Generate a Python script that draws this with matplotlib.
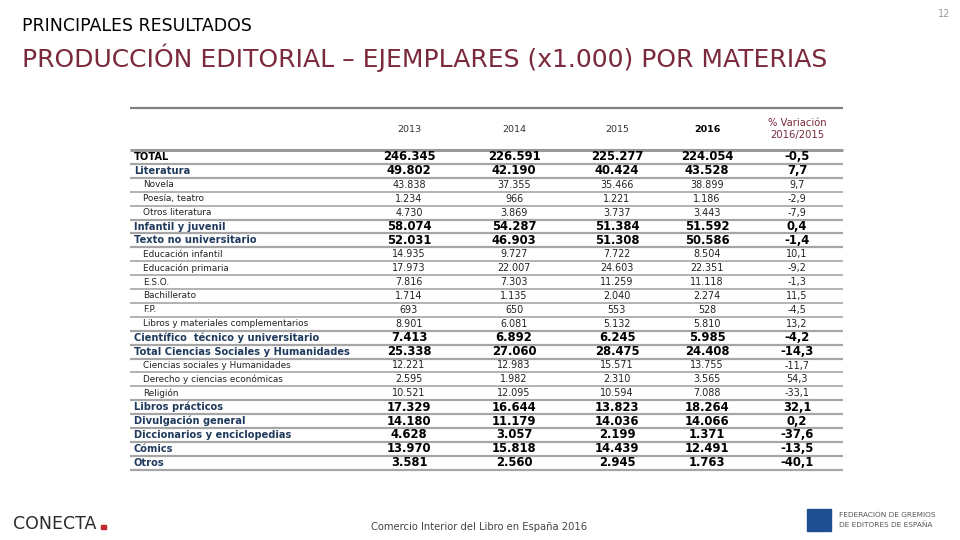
import matplotlib.pyplot as plt
from matplotlib.patches import Rectangle

# categories and row kind: "total", "main" (bold heading), "sub" (indented detail)
categories = [
    "TOTAL", "Literatura", "Novela", "Poesía, teatro", "Otros literatura",
    "Infantil y juvenil", "Texto no universitario", "Educación infantil",
    "Educación primaria", "E.S.O.", "Bachillerato", "F.P.",
    "Libros y materiales complementarios", "Científico  técnico y universitario",
    "Total Ciencias Sociales y Humanidades", "Ciencias sociales y Humanidades",
    "Derecho y ciencias económicas", "Religión", "Libros prácticos",
    "Divulgación general", "Diccionarios y enciclopedias", "Cómics", "Otros",
]
kinds = [
    "total", "main", "sub", "sub", "sub", "main", "main", "sub", "sub", "sub",
    "sub", "sub", "sub", "main", "main", "sub", "sub", "sub", "main", "main",
    "main", "main", "main",
]
years = ["2013", "2014", "2015", "2016"]
v2013 = ["246.345", "49.802", "43.838", "1.234", "4.730", "58.074", "52.031",
         "14.935", "17.973", "7.816", "1.714", "693", "8.901", "7.413", "25.338",
         "12.221", "2.595", "10.521", "17.329", "14.180", "4.628", "13.970", "3.581"]
v2014 = ["226.591", "42.190", "37.355", "966", "3.869", "54.287", "46.903",
         "9.727", "22.007", "7.303", "1.135", "650", "6.081", "6.892", "27.060",
         "12.983", "1.982", "12.095", "16.644", "11.179", "3.057", "15.818", "2.560"]
v2015 = ["225.277", "40.424", "35.466", "1.221", "3.737", "51.384", "51.308",
         "7.722", "24.603", "11.259", "2.040", "553", "5.132", "6.245", "28.475",
         "15.571", "2.310", "10.594", "13.823", "14.036", "2.199", "14.439", "2.945"]
v2016 = ["224.054", "43.528", "38.899", "1.186", "3.443", "51.592", "50.586",
         "8.504", "22.351", "11.118", "2.274", "528", "5.810", "5.985", "24.408",
         "13.755", "3.565", "7.088", "18.264", "14.066", "1.371", "12.491", "1.763"]
variacion = ["-0,5", "7,7", "9,7", "-2,9", "-7,9", "0,4", "-1,4", "10,1", "-9,2",
             "-1,3", "11,5", "-4,5", "13,2", "-4,2", "-14,3", "-11,7", "54,3",
             "-33,1", "32,1", "0,2", "-37,6", "-13,5", "-40,1"]

DARK_RED = "#7a2a3c"
NAVY = "#1f3a5c"
GRID = "#a6a6a6"

fig = plt.figure(figsize=(9.6, 5.4), dpi=100)
ax = fig.add_axes([0, 0, 1, 1])
ax.set_xlim(0, 960)
ax.set_ylim(540, 0)
ax.axis("off")

# slide header
ax.text(944, 14, "12", fontsize=7, color="#999999", ha="center", va="center")
ax.text(22, 26, "PRINCIPALES RESULTADOS", fontsize=12.5, color="black", va="center")
ax.text(22, 58, "PRODUCCIÓN EDITORIAL – EJEMPLARES (x1.000) POR MATERIAS",
        fontsize=18, color=DARK_RED, va="center")

# table layout
x_left, x_right = 130, 843
col_x = [409, 514, 617, 707, 797]
row0, row_h = 157, 13.9

ax.hlines(108, x_left, x_right, color="#808080", lw=1.6)
for i, y in enumerate(years):
    ax.text(col_x[i], 129, y, fontsize=6.8, ha="center", va="center",
            color="#333333" if i < 3 else "black",
            fontweight="bold" if i == 3 else "normal")
ax.text(col_x[4], 129, "% Variación\n2016/2015", fontsize=7.2, ha="center",
        va="center", color=DARK_RED, linespacing=1.3)
ax.hlines(150, x_left, x_right, color="#999999", lw=2.2)

columns = [v2013, v2014, v2015, v2016, variacion]
for r, (cat, kind) in enumerate(zip(categories, kinds)):
    y = row0 + r * row_h
    if kind == "sub":
        ax.text(143, y, cat, fontsize=6.4, color="#222222", va="center")
        style = dict(fontsize=6.9, color="#222222")
    else:
        ax.text(134, y, cat, fontsize=7.1, fontweight="bold", va="center",
                color="black" if kind == "total" else NAVY)
        style = dict(fontsize=8.4, fontweight="bold", color="black")
    for c, vals in enumerate(columns):
        ax.text(col_x[c], y, vals[r], ha="center", va="center", **style)
    if r < len(categories) - 1:
        nxt = kinds[r + 1]
        lw = 1.6 if nxt != "sub" or kind != "sub" else 1.2
        ax.hlines(y + row_h / 2, x_left, x_right, color=GRID, lw=lw)
ax.hlines(row0 + (len(categories) - 0.5) * row_h, x_left, x_right, color=GRID, lw=1.6)

# footer
ax.text(13, 524, "CONECTA", fontsize=12.5, color="#2b2b2b", va="center")
ax.add_patch(Rectangle((101, 525), 5, 4, color="#c0282d"))
ax.text(479, 527, "Comercio Interior del Libro en España 2016", fontsize=7.2,
        color="#444444", ha="center", va="center")
ax.add_patch(Rectangle((807, 509), 24, 22, color="#1d4f91"))
ax.text(839, 515, "FEDERACIÓN DE GREMIOS", fontsize=5.3, color="#555555", va="center")
ax.text(839, 525, "DE EDITORES DE ESPAÑA", fontsize=5.3, color="#555555", va="center")

fig.savefig("out.png", dpi=100)
